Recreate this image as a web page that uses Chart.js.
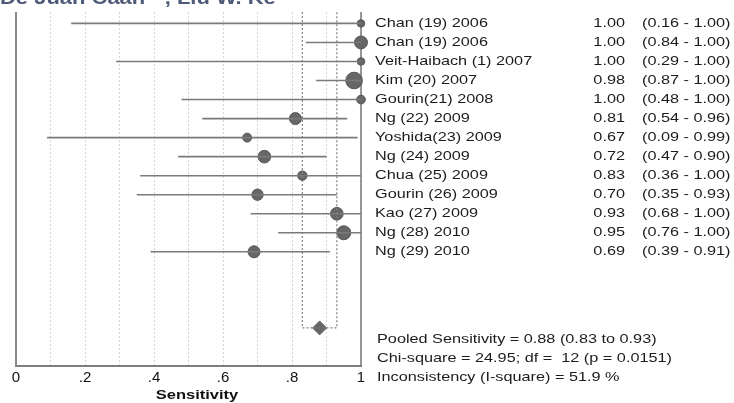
<!DOCTYPE html>
<html>
<head>
<meta charset="utf-8">
<script src="https://cdn.jsdelivr.net/npm/chart.js@4.4.1/dist/chart.umd.min.js"></script>
<style>
  html, body { margin: 0; padding: 0; background: #fff; }
  #wrap { width: 734px; height: 403px; position: relative; }
</style>
</head>
<body>
<div id="wrap"><canvas id="myChart" width="734" height="403"></canvas></div>
<script>
// forest plot data
var studies = ["Chan (19) 2006", "Chan (19) 2006", "Veit-Haibach (1) 2007", "Kim (20) 2007",
  "Gourin(21) 2008", "Ng (22) 2009", "Yoshida(23) 2009", "Ng (24) 2009", "Chua (25) 2009",
  "Gourin (26) 2009", "Kao (27) 2009", "Ng (28) 2010", "Ng (29) 2010"];
var sens  = [1.00, 1.00, 1.00, 0.98, 1.00, 0.81, 0.67, 0.72, 0.83, 0.70, 0.93, 0.95, 0.69];
var lower = [0.16, 0.84, 0.29, 0.87, 0.48, 0.54, 0.09, 0.47, 0.36, 0.35, 0.68, 0.76, 0.39];
var upper = [1.00, 1.00, 1.00, 1.00, 1.00, 0.96, 0.99, 0.90, 1.00, 0.93, 1.00, 1.00, 0.91];
// relative study weight (marker area)
var weight = [14, 42, 14, 69, 19, 36, 20, 40, 22, 32, 40, 49, 36];
var pooled = 0.88, pooledLo = 0.83, pooledHi = 0.93;
var pooledRow = 16;
var tickLabels = ["0", ".2", ".4", ".6", ".8", "1"];
var statLines = ["Pooled Sensitivity = 0.88 (0.83 to 0.93)",
  "Chi-square = 24.95; df =  12 (p = 0.0151)",
  "Inconsistency (I-square) = 51.9 %"];
var axisTitle = "Sensitivity";
var topText = "De Juan Caan \u00a8 , Liu W. Ke";

var yTop = -0.6, yBottom = 18;
var SX = 1.25; // the source text is stretched sideways

function stretchText(ctx, txt, x, y, align, sx) {
  ctx.save();
  ctx.translate(x, y);
  ctx.scale(sx, 1);
  ctx.textAlign = align;
  ctx.fillText(txt, 0, 0);
  ctx.restore();
}

var framePlugin = {
  id: 'frame',
  beforeDatasetsDraw: function (chart) {
    var ctx = chart.ctx, a = chart.chartArea;
    ctx.save();
    ctx.strokeStyle = '#8a8a8a';
    ctx.lineWidth = 2;
    ctx.beginPath();
    ctx.moveTo(a.left, a.top); ctx.lineTo(a.left, a.bottom);
    ctx.stroke();
    ctx.strokeStyle = '#777';
    ctx.lineWidth = 1.5;
    ctx.beginPath();
    ctx.moveTo(a.right, a.top); ctx.lineTo(a.right, a.bottom);
    ctx.stroke();
    ctx.restore();
  },
  afterDraw: function (chart) {
    var ctx = chart.ctx, ys = chart.scales.y;
    ctx.save();
    ctx.fillStyle = '#1c1c1c';
    ctx.textBaseline = 'middle';
    ctx.font = '13px "Liberation Sans", Arial, sans-serif';
    for (var i = 0; i < studies.length; i++) {
      var y = ys.getPixelForValue(i);
      stretchText(ctx, studies[i], 375, y, 'left', SX);
      stretchText(ctx, sens[i].toFixed(2), 625, y, 'right', SX);
      stretchText(ctx, '(' + lower[i].toFixed(2) + ' - ' + upper[i].toFixed(2) + ')', 642, y, 'left', SX);
    }
    for (var j = 0; j < statLines.length; j++) {
      stretchText(ctx, statLines[j], 377, ys.getPixelForValue(pooledRow + 0.6 + j), 'left', SX);
    }
    ctx.font = 'bold 13px "Liberation Sans", Arial, sans-serif';
    ctx.fillStyle = '#111';
    stretchText(ctx, axisTitle, 197, 395, 'center', 1.27);
    ctx.font = 'bold 18px "Liberation Sans", Arial, sans-serif';
    ctx.fillStyle = '#4d5a78';
    ctx.textBaseline = 'alphabetic';
    stretchText(ctx, topText, 0, 4, 'left', 1.22);
    ctx.restore();
  }
};

var datasets = [];
// confidence intervals
for (var i = 0; i < studies.length; i++) {
  datasets.push({
    data: [{x: lower[i], y: i}, {x: upper[i], y: i}],
    showLine: true,
    borderColor: '#7a7a7a',
    borderWidth: 1.6,
    pointRadius: 0,
    clip: false
  });
}
// pooled CI bracket
datasets.push({
  data: [{x: pooledLo, y: yTop}, {x: pooledLo, y: pooledRow}, {x: pooledHi, y: pooledRow}, {x: pooledHi, y: yTop}],
  showLine: true,
  borderColor: '#808080',
  borderWidth: 1.2,
  borderDash: [2, 2],
  pointRadius: 0
});
// study estimates
datasets.push({
  data: sens.map(function (v, i) { return {x: v, y: i}; }),
  pointRadius: weight.map(function (w) { return Math.sqrt(w); }),
  backgroundColor: '#666',
  borderColor: '#555',
  borderWidth: 1,
  clip: false
});
// pooled estimate
datasets.push({
  data: [{x: pooled, y: pooledRow}],
  pointStyle: 'rectRot',
  pointRadius: 7,
  backgroundColor: '#666',
  borderColor: '#666',
  clip: false
});

var ctx = document.getElementById('myChart').getContext('2d');
var chart = new Chart(ctx, {
  type: 'scatter',
  data: { datasets: datasets },
  plugins: [framePlugin],
  options: {
    responsive: false,
    animation: false,
    events: [],
    layout: { padding: { left: 16, right: 373, top: 12, bottom: 0 } },
    plugins: { legend: { display: false }, tooltip: { enabled: false } },
    scales: {
      x: {
        type: 'linear', min: 0, max: 1,
        afterFit: function (s) { s.height = 37; },
        ticks: {
          stepSize: 0.1,
          autoSkip: false,
          maxRotation: 0,
          padding: 3,
          color: '#111',
          font: { size: 15, family: '"Liberation Sans", Arial, sans-serif' },
          callback: function (v) {
            var k = Math.round(v * 10);
            return k % 2 === 0 ? tickLabels[k / 2] : '';
          }
        },
        grid: { color: '#d4d4d4', lineWidth: 1, drawTicks: false },
        border: { display: true, color: '#7e7e7e', width: 2, dash: [2, 2] }
      },
      y: {
        type: 'linear', min: yTop, max: yBottom, reverse: true,
        display: false
      }
    }
  }
});
</script>
</body>
</html>
